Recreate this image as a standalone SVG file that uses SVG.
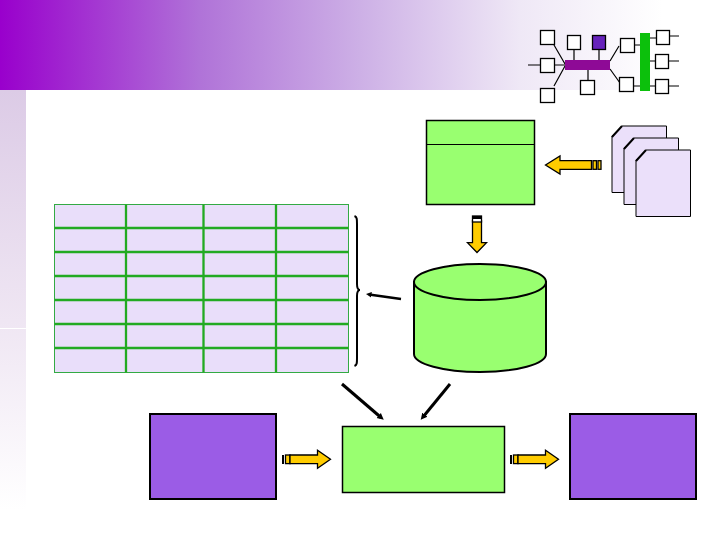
<svg xmlns="http://www.w3.org/2000/svg" width="720" height="540" viewBox="0 0 720 540">
<style>
.g{fill:#99ff70;stroke:#000;stroke-width:1.500}
.p{fill:#9b5ce6;stroke:#000;stroke-width:2}
.d{fill:#ebe0fa;stroke:#000;stroke-width:1}
.y{fill:#ffcc00;stroke:#000;stroke-width:1.300;stroke-linejoin:miter}
.t{stroke:#22aa22;stroke-width:2.300;fill:none}
.n{fill:#fff;stroke:#000;stroke-width:1.300}
.l{stroke:#000;stroke-width:1.200;fill:none}
.a{stroke:#000;stroke-width:3;fill:none}
</style>
<defs>
<linearGradient id="top" x1="0" y1="0" x2="1" y2="0"><stop offset="0" stop-color="#9900cc"/><stop offset=".278" stop-color="#b073d8"/><stop offset=".5" stop-color="#cdb0e6"/><stop offset=".722" stop-color="#efe8f6"/><stop offset=".92" stop-color="#ffffff"/></linearGradient>
<linearGradient id="left" x1="0" y1="0" x2="0" y2="1"><stop offset="0" stop-color="#dccbe6"/><stop offset=".55" stop-color="#efe6f3"/><stop offset="1" stop-color="#ffffff"/></linearGradient>
<marker id="h" markerWidth="4" markerHeight="4" refX="1" refY="1.500" orient="auto"><path d="M0 .4L2.200 1.500L0 2.600Z" fill="#000"/></marker>
</defs>
<rect width="720" height="540" fill="#fff"/>
<rect id="band-top" x="0" y="0" width="720" height="90" fill="url(#top)"/>
<rect id="band-left" x="0" y="90" width="26" height="420" fill="url(#left)"/>
<rect x="0" y="328" width="26" height="1" fill="#fff"/>

<g id="network">
<path class="l" d="M554 45L565 64M528 65L565 65M554 86L565 66M574 49V61M599 49V61M588 70V81M610 61L619 46M610 69L620 83M634 45H644M632 86H644M646 38H656M646 61H656M646 86H656M669 36H679M669 61H679M668 86H679"/>
<rect x="565" y="60" width="45" height="10" fill="#8e0a96"/>
<rect x="640" y="33" width="10" height="58" fill="#0cc00c"/>
<rect class="n" x="540.500" y="30.500" width="14" height="14"/>
<rect class="n" x="567.500" y="35.500" width="13" height="14"/>
<rect x="592.500" y="35.500" width="13" height="14" fill="#6622bb" stroke="#000" stroke-width="1.300"/>
<rect class="n" x="540.500" y="58.500" width="14" height="14"/>
<rect class="n" x="540.500" y="88.500" width="14" height="14"/>
<rect class="n" x="580.500" y="80.500" width="14" height="14"/>
<rect class="n" x="620.500" y="38.500" width="14" height="14"/>
<rect class="n" x="619.500" y="77.500" width="14" height="14"/>
<rect class="n" x="656.500" y="30.500" width="13" height="14"/>
<rect class="n" x="655.500" y="54.500" width="13" height="14"/>
<rect class="n" x="655.500" y="79.500" width="13" height="14"/>
</g>

<g id="form">
<rect class="g" x="426.500" y="120.500" width="108" height="84"/>
<path d="M426.500 144.500H534.500" stroke="#000" stroke-width="1"/>
</g>

<g id="documents">
<path class="d" d="M622 126H666.500V192.500H612V136Z"/>
<path class="d" d="M634 138H678.500V204.500H624V148Z"/>
<path class="d" d="M646 150H690.500V216.500H636V160Z"/>
<path d="M612 137L622 126M624 149L634 138M636 161L646 150" stroke="#000" stroke-width="2" fill="none"/>
</g>

<g id="table">
<rect x="54.500" y="204.500" width="294" height="168" fill="#e9defa" stroke="#33aa44" stroke-width="1"/>
<path class="t" d="M54.500 228H348.500M54.500 252H348.500M54.500 276H348.500M54.500 300H348.500M54.500 324H348.500M54.500 348H348.500M126 204.500V372.500M203.500 204.500V372.500M276 204.500V372.500"/>
</g>

<g id="brace">
<path d="M354.500 216C357 217 357 219 357 224V284C357 288 358 290 360 290C358 290 357 292 357 296V358C357 363 357 365 354.500 366" fill="none" stroke="#000" stroke-width="2"/>
</g>

<g id="database">
<path class="g" style="stroke-width:2" d="M414 282V354A66 18 0 0 0 546 354V282Z"/>
<ellipse class="g" style="stroke-width:2" cx="480" cy="282" rx="66" ry="18"/>
</g>

<g id="process"><rect class="g" x="342.500" y="426.500" width="162" height="66"/></g>
<g id="input"><rect class="p" x="150" y="414" width="126" height="85"/></g>
<g id="output"><rect class="p" x="570" y="414" width="126" height="85"/></g>

<g id="connectors">
<path class="a" d="M401 299L369 294.500" style="stroke-width:2.500" marker-end="url(#h)"/>
<path class="a" d="M342 384L381 417.500" marker-end="url(#h)"/>
<path class="a" d="M450 384L423 417" marker-end="url(#h)"/>
<g id="arrow-docs">
<path class="y" d="M545.500 165L560 156V160.700H591.500V169.300H560V174Z"/>
<rect class="y" x="593" y="160.700" width="3.500" height="8.600"/>
<rect class="y" x="598" y="160.700" width="3" height="8.600"/>
</g>
<g id="arrow-db">
<path class="y" d="M472.500 221H481.500V242.700H486.500L477 252.500L467.500 242.700H472.500Z"/>
<rect x="472.500" y="216" width="9" height="6" fill="#fff" stroke="#000" stroke-width="1.300"/>
<rect x="472" y="216" width="10" height="3" fill="#000"/>
</g>
<g id="arrow-in">
<rect x="282" y="455" width="2" height="9" fill="#000"/>
<rect class="y" x="285.500" y="455" width="4.500" height="8.600"/>
<path class="y" d="M290 455H317.500V450.300L330.500 459.300L317.500 468.300V463.600H290Z"/>
</g>
<g id="arrow-out">
<rect x="510" y="455" width="2" height="9" fill="#000"/>
<rect class="y" x="513.500" y="455" width="4.500" height="8.600"/>
<path class="y" d="M518 455H545.500V450.300L558.500 459.300L545.500 468.300V463.600H518Z"/>
</g>
</g>
</svg>
